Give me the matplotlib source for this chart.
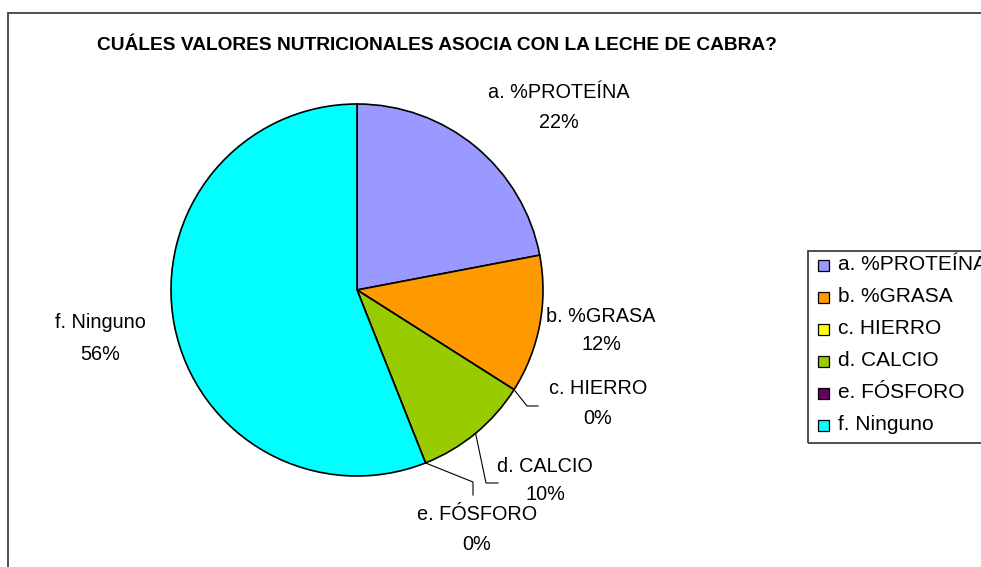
import matplotlib
matplotlib.use("Agg")
import matplotlib.pyplot as plt
from matplotlib.patches import Rectangle
import numpy as np

plt.rcParams['font.family'] = ['Liberation Sans', 'DejaVu Sans']

title = "CUÁLES VALORES NUTRICIONALES ASOCIA CON LA LECHE DE CABRA?"
categories = ["a. %PROTEÍNA", "b. %GRASA", "c. HIERRO", "d. CALCIO", "e. FÓSFORO", "f. Ninguno"]
values = [22, 12, 0, 10, 0, 56]
colors = ["#9999FF", "#FF9900", "#FFFF00", "#99CC00", "#660066", "#00FFFF"]

W, H = 981, 567
fig = plt.figure(figsize=(W / 100, H / 100), dpi=100)
ax = fig.add_axes([0, 0, 1, 1])

cx, cy, R = 357, H - 290, 186
wedges, _ = ax.pie(values, colors=colors, startangle=90, counterclock=False,
                   center=(cx, cy), radius=R,
                   wedgeprops=dict(edgecolor="black", linewidth=1.2))
ax.set_xlim(0, W)
ax.set_ylim(0, H)
ax.set_aspect("equal")
ax.axis("off")

# outer chart border
ax.add_patch(Rectangle((8, -20), W + 20, H - 13 + 20, fill=False,
                       edgecolor="#404040", linewidth=1.3, clip_on=False))

ax.text(437, H - 45, title, ha="center", va="center", fontsize=13.8,
        fontweight="bold")

total = sum(values)
pcts = [f"{round(100 * v / total):.0f}%" for v in values]

LFS = 14.3
# label positions (pixel coords, top origin): (x, name y, percent y)
label_pos = [(559, 92, 122), (601, 316, 345), (598, 388, 419),
             (545, 466, 494), (477, 514, 545), (100, 322, 355)]
for (lx, y1, y2), cat, p in zip(label_pos, categories, pcts):
    ax.text(lx, H - y1, cat, ha="center", va="center", fontsize=LFS)
    ax.text(lx, H - y2, p, ha="center", va="center", fontsize=LFS)

# leader lines for small slices
def edge_point(frac):
    ang = np.deg2rad(90 - 360 * frac)
    return cx + R * np.cos(ang), cy + R * np.sin(ang)

cum = np.cumsum([0] + values) / total
mids = [(cum[i] + cum[i + 1]) / 2 for i in range(len(values))]
leaders = {2: [(527, 406), (538, 406)],
           3: [(486, 483), (498, 483)],
           4: [(473, 482), (473, 495)]}
for i, pts in leaders.items():
    x0, y0 = edge_point(mids[i])
    xs = [x0] + [p[0] for p in pts]
    ys = [y0] + [H - p[1] for p in pts]
    ax.plot(xs, ys, color="black", linewidth=0.8)

# legend
lx0, ly_top, ly_bot = 808, 251, 443
ax.add_patch(Rectangle((lx0, H - ly_bot), W + 20 - lx0, ly_bot - ly_top,
                       fill=False, edgecolor="#404040", linewidth=1.3,
                       clip_on=False))
row_y = [265, 297, 329, 361, 393, 425]
for y, cat, col in zip(row_y, categories, colors):
    ax.add_patch(Rectangle((818, H - y - 5.5), 11, 11, facecolor=col,
                           edgecolor="black", linewidth=0.9))
    ax.text(838, H - y, cat, ha="left", va="center", fontsize=15)

fig.savefig("out.png", dpi=100)
